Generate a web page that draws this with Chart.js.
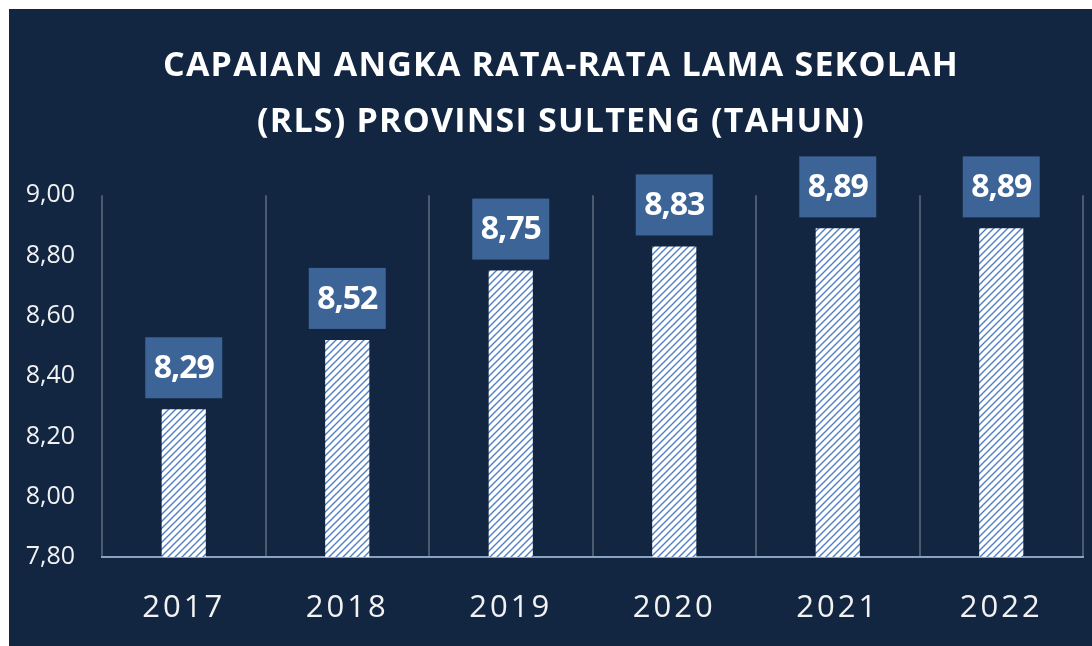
<!DOCTYPE html>
<html>
<head>
<meta charset="utf-8">
<script src="https://cdn.jsdelivr.net/npm/chart.js@4"></script>
<style>
  html, body { margin: 0; padding: 0; background: #ffffff; }
  #panel { position: absolute; left: 9px; top: 9px; width: 1083px; height: 637px; background: #122642; }
  canvas { display: block; }
</style>
</head>
<body>
<div id="panel"><canvas id="c"></canvas></div>
<script>
const titleLines = ['CAPAIAN ANGKA RATA-RATA LAMA SEKOLAH', '(RLS) PROVINSI SULTENG (TAHUN)'];
const years = ['2017', '2018', '2019', '2020', '2021', '2022'];
const rlsValues = [8.29, 8.52, 8.75, 8.83, 8.89, 8.89];
const yMin = 7.8;
const yMax = 9.0;
const yStep = 0.2;

function fmt(v) { return Number(v).toFixed(2).replace('.', ','); }

function hatch() {
  const s = 7;
  const c = document.createElement('canvas');
  c.width = s; c.height = s;
  const g = c.getContext('2d');
  g.fillStyle = '#ffffff';
  g.fillRect(0, 0, s, s);
  g.strokeStyle = '#4f7ec4';
  g.lineWidth = 1.4;
  g.beginPath();
  g.moveTo(-1, s + 1); g.lineTo(s + 1, -1);
  g.moveTo(-2, 2); g.lineTo(2, -2);
  g.moveTo(s - 2, s + 2); g.lineTo(s + 2, s - 2);
  g.stroke();
  return g.createPattern(c, 'repeat');
}

// letter spacing for the title (slightly right of centre) and the category labels
const spacing = {
  id: 'spacing',
  beforeDraw(chart) {
    const ctx = chart.ctx;
    const tb = chart.titleBlock;
    if (tb && !tb._spaced) {
      const orig = tb.draw.bind(tb);
      tb.draw = function () { ctx.save(); ctx.translate(15, 0); ctx.letterSpacing = '1.2px'; orig(); ctx.restore(); };
      tb._spaced = true;
    }
    const xs = chart.scales.x;
    if (xs && !xs._spaced) {
      const origL = xs.drawLabels.bind(xs);
      xs.drawLabels = function (a) { ctx.save(); ctx.letterSpacing = '3px'; origL(a); ctx.restore(); };
      xs._spaced = true;
    }
  }
};

const boxLabels = {
  id: 'boxLabels',
  afterDatasetsDraw(chart) {
    const ctx = chart.ctx;
    const meta = chart.getDatasetMeta(0);
    ctx.save();
    meta.data.forEach((bar, i) => {
      const w = 77, h = 61, gap = 11;
      const x = bar.x, top = bar.y - gap - h;
      ctx.fillStyle = '#3d6496';
      ctx.fillRect(x - w / 2, top, w, h);
      ctx.fillStyle = '#ffffff';
      ctx.font = 'bold 32px "Open Sans", sans-serif';
      ctx.letterSpacing = '-1px';
      ctx.textAlign = 'center';
      ctx.textBaseline = 'middle';
      ctx.fillText(fmt(rlsValues[i]), x, top + h / 2 + 1);
    });
    ctx.restore();
  }
};

new Chart(document.getElementById('c'), {
  type: 'bar',
  data: {
    labels: years,
    datasets: [{
      data: rlsValues,
      backgroundColor: hatch(),
      borderWidth: 0,
      barPercentage: 0.27,
      categoryPercentage: 1
    }]
  },
  options: {
    responsive: true,
    maintainAspectRatio: false,
    animation: false,
    layout: { padding: { left: 0, right: 9, top: 0, bottom: 0 } },
    plugins: {
      legend: { display: false },
      tooltip: { enabled: false },
      title: {
        display: true,
        text: titleLines,
        color: '#ffffff',
        font: { family: '"Open Sans", sans-serif', size: 34, weight: 'bold', lineHeight: 1.65 },
        padding: { top: 29, bottom: 45 }
      }
    },
    scales: {
      x: {
        grid: { display: true, color: '#4b5a6f', lineWidth: 2, offset: true, drawTicks: false },
        border: { display: true, color: '#8aa2c2', width: 2 },
        ticks: {
          color: '#f2f2f2',
          padding: 33,
          font: { family: '"Open Sans", sans-serif', size: 31 }
        },
        afterFit(scale) { scale.height = 89; }
      },
      y: {
        min: yMin,
        max: yMax,
        grid: { display: false, drawTicks: false },
        border: { display: false },
        ticks: {
          stepSize: yStep,
          color: '#f2f2f2',
          padding: 27,
          font: { family: '"Open Sans", sans-serif', size: 25 },
          callback: (v) => fmt(v)
        },
        afterFit(scale) { scale.width = 93; }
      }
    }
  },
  plugins: [spacing, boxLabels]
});
</script>
</body>
</html>
